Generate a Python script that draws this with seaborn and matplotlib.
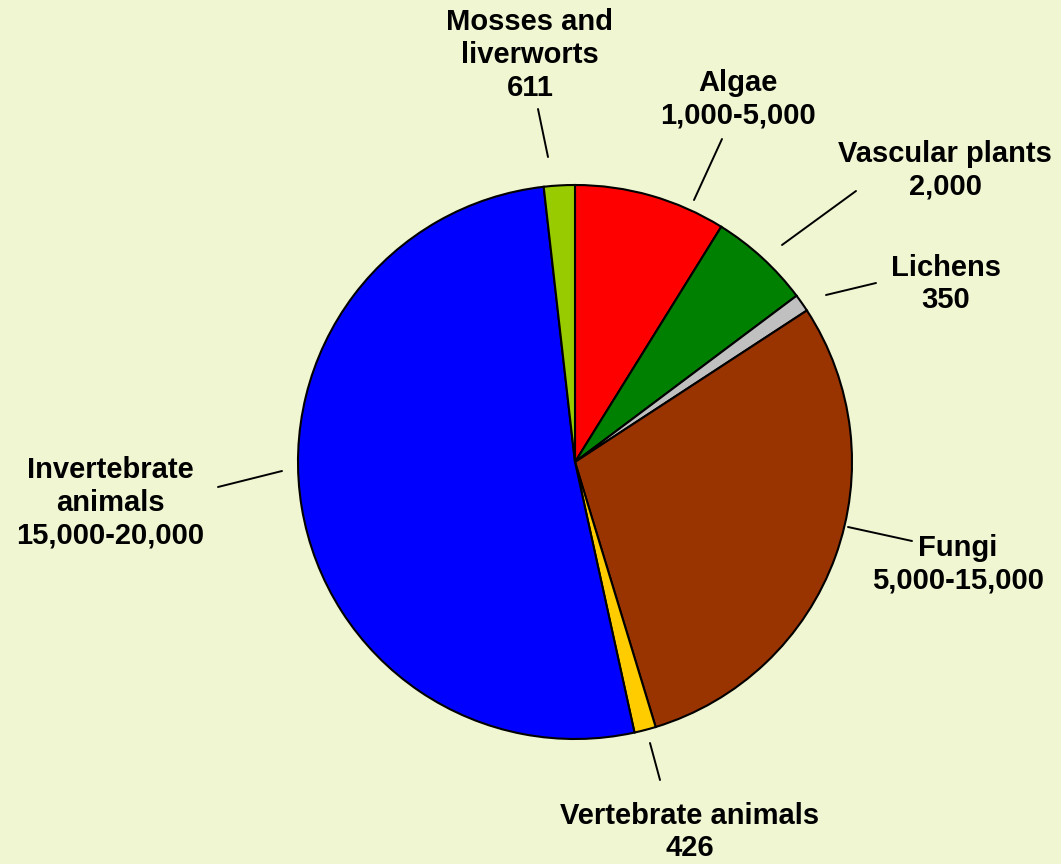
import matplotlib
matplotlib.use("Agg")
import matplotlib.pyplot as plt
import seaborn as sns
import numpy as np

# species groups, clockwise from 12 o'clock
groups = ["Algae", "Vascular plants", "Lichens", "Fungi",
          "Vertebrate animals", "Invertebrate animals", "Mosses and liverworts"]
counts = [3000, 2000, 350, 10000, 426, 17500, 611]
count_labels = ["1,000-5,000", "2,000", "350", "5,000-15,000",
                "426", "15,000-20,000", "611"]
label_names = ["Algae", "Vascular plants", "Lichens", "Fungi",
               "Vertebrate animals", "Invertebrate\nanimals", "Mosses and\nliverworts"]
colors = ["#FF0000", "#008000", "#C0C0C0", "#993300",
          "#FFCC00", "#0000FF", "#99CC00"]

# layout (pixels of the 1061x864 picture): label centre, leader line start/end
label_pos = [(738, 99), (945, 170), (946, 284), (958, 564),
             (690, 832), (110, 503), (530, 55)]
leaders = [((694, 200), (722, 139)),
           ((782, 245), (856, 191)),
           ((826, 295), (876, 283)),
           ((848, 527), (912, 541)),
           ((650, 743), (660, 780)),
           ((282, 471), (218, 487)),
           ((548, 157), (538, 109))]

bg = "#F0F5D2"
sns.set_theme(style="white")
plt.rcParams["font.family"] = ["Liberation Sans", "DejaVu Sans"]

W, H = 1061, 864
cx, cy, R = 575, 462, 277


def px(p):
    return ((p[0] - cx) / R, (cy - p[1]) / R)


fig = plt.figure(figsize=(W / 100, H / 100), dpi=100, facecolor=bg)
ax = fig.add_axes([0, 0, 1, 1])
ax.set_facecolor(bg)

ax.pie(counts, colors=colors, startangle=90, counterclock=False,
       radius=1, center=(0, 0),
       wedgeprops=dict(edgecolor="black", linewidth=1.5))

for name, cl, pos in zip(label_names, count_labels, label_pos):
    x, y = px(pos)
    ax.text(x, y, name + "\n" + cl, ha="center", va="center",
            fontsize=21, fontweight="bold", color="black", linespacing=1.22)

for a, b in leaders:
    (x1, y1), (x2, y2) = px(a), px(b)
    ax.plot([x1, x2], [y1, y2], color="black", lw=1.4)

ax.set_xlim(-cx / R, (W - cx) / R)
ax.set_ylim((cy - H) / R, cy / R)
ax.set_aspect("equal", adjustable="box")
ax.axis("off")

fig.savefig("out.png", dpi=100, facecolor=bg)
